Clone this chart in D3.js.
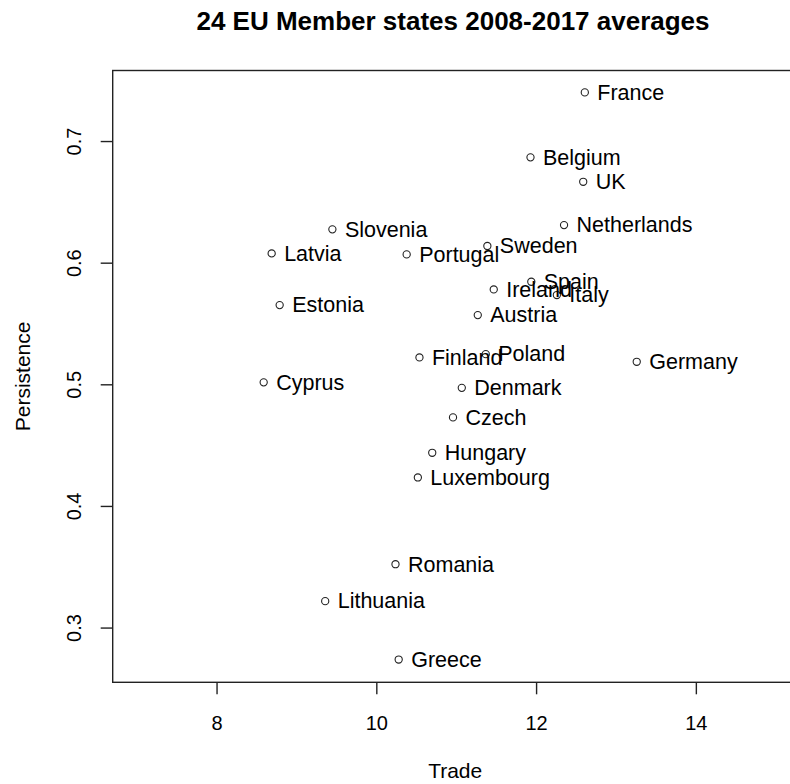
<!DOCTYPE html>
<html>
<head>
<meta charset="utf-8">
<script src="https://cdn.jsdelivr.net/npm/d3@7"></script>
<style>
  html, body { margin: 0; padding: 0; background: #fff; }
  svg { display: block; font-family: "Liberation Sans", Arial, sans-serif; }
</style>
</head>
<body>
<svg id="chart" width="790" height="784"></svg>
<script>
const countries = ["France","Belgium","UK","Netherlands","Slovenia","Sweden","Latvia","Portugal",
  "Spain","Ireland","Italy","Estonia","Austria","Poland","Finland","Germany","Cyprus",
  "Denmark","Czech","Hungary","Luxembourg","Romania","Lithuania","Greece"];
const trade = [12.61,11.93,12.59,12.35,9.45,11.39,8.69,10.38,
  11.94,11.47,12.26,8.79,11.27,11.37,10.54,13.26,8.59,
  11.07,10.96,10.70,10.52,10.24,9.36,10.28];
const persistence = [0.740,0.6866,0.6665,0.6309,0.6274,0.6137,0.6076,0.6068,
  0.5843,0.578,0.5734,0.5651,0.5569,0.5248,0.5221,0.5185,0.5016,
  0.4971,0.4728,0.4437,0.4234,0.3521,0.3217,0.2737];
const xTicks = [8, 10, 12, 14];
const yTicks = [0.3, 0.4, 0.5, 0.6, 0.7];
const xLimits = [6.7, 15.3];
const yLimits = [0.255, 0.758];
const title = "24 EU Member states 2008-2017 averages";
const xLabel = "Trade";
const yLabel = "Persistence";

(function () {
const svg = d3.select("#chart");
const pLeft = 112.7, pRight = 799.7, pTop = 70.5, pBottom = 682.3;

const x = d3.scaleLinear().domain(xLimits).range([pLeft, pRight]);
const y = d3.scaleLinear().domain(yLimits).range([pBottom, pTop]);

// Title
svg.append("text")
  .attr("x", 453).attr("y", 30)
  .attr("text-anchor", "middle")
  .attr("font-weight", "bold")
  .attr("font-size", 26)
  .attr("fill", "#000")
  .text(title);

// Box
svg.append("rect")
  .attr("x", pLeft).attr("y", pTop)
  .attr("width", pRight - pLeft).attr("height", pBottom - pTop)
  .attr("fill", "none").attr("stroke", "#222").attr("stroke-width", 1.4);

// X axis
const gx = svg.append("g")
  .attr("transform", `translate(0,${pBottom})`)
  .call(d3.axisBottom(x).tickValues(xTicks).tickSize(12).tickPadding(22).tickFormat(d3.format("d")));
gx.select(".domain").remove();
gx.selectAll(".tick line").attr("stroke", "#222").attr("stroke-width", 1.4);
gx.selectAll(".tick text").attr("font-size", 20).attr("fill", "#000")
  .attr("font-family", "'Liberation Sans', Arial, sans-serif");

// Y axis
const gy = svg.append("g")
  .attr("transform", `translate(${pLeft},0)`)
  .call(d3.axisLeft(y).tickValues(yTicks).tickSize(12).tickFormat(d3.format(".1f")));
gy.select(".domain").remove();
gy.selectAll(".tick line").attr("stroke", "#222").attr("stroke-width", 1.4);
gy.selectAll(".tick text")
  .attr("x", null)
  .attr("transform", "translate(-39,0) rotate(-90)")
  .attr("text-anchor", "middle")
  .attr("dy", "0.35em")
  .attr("font-size", 20).attr("fill", "#000")
  .attr("font-family", "'Liberation Sans', Arial, sans-serif");

// Axis labels
svg.append("text")
  .attr("x", (pLeft + pRight) / 2 - 1).attr("y", 778)
  .attr("text-anchor", "middle")
  .attr("font-size", 21).attr("fill", "#000")
  .text(xLabel);
svg.append("text")
  .attr("transform", `translate(30,${(pTop + pBottom) / 2}) rotate(-90)`)
  .attr("text-anchor", "middle")
  .attr("font-size", 21).attr("fill", "#000")
  .text(yLabel);

const data = countries.map((c, i) => ({ name: c, tx: trade[i], p: persistence[i] }));

// Points
svg.append("g").selectAll("circle").data(data).join("circle")
  .attr("cx", d => x(d.tx)).attr("cy", d => y(d.p))
  .attr("r", 3.6)
  .attr("fill", "none").attr("stroke", "#222").attr("stroke-width", 1.1);

// Labels
svg.append("g").selectAll("text").data(data).join("text")
  .attr("x", d => x(d.tx) + 12.5).attr("y", d => y(d.p))
  .attr("dy", "0.34em")
  .attr("font-size", 21.5).attr("fill", "#000")
  .text(d => d.name);
})();
</script>
</body>
</html>
